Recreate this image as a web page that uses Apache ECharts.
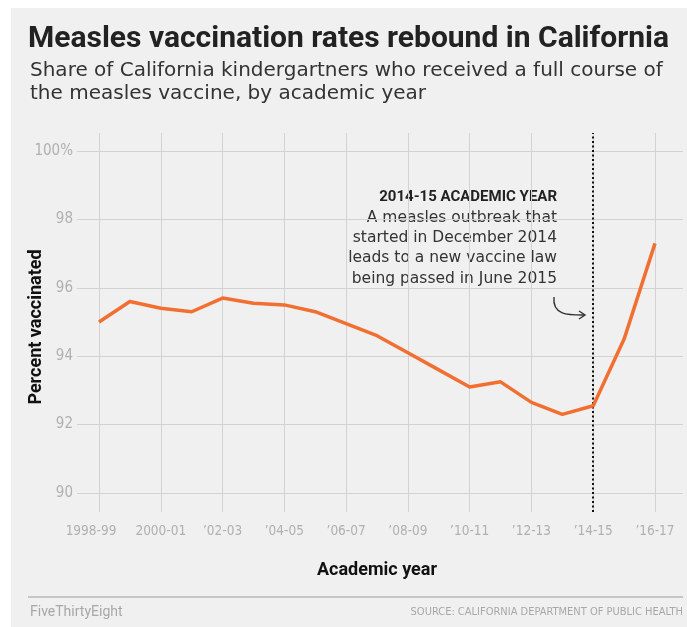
<!DOCTYPE html>
<html>
<head>
<meta charset="utf-8">
<script src="https://cdn.jsdelivr.net/npm/echarts@6/dist/echarts.min.js"></script>
<style>
html,body{margin:0;padding:0;background:#fff;}
#chart{width:687px;height:627px;}
</style>
</head>
<body>
<div id="chart"></div>
<script>
const categories = ['1998-99','1999-00','2000-01','2001-02','2002-03','2003-04','2004-05','2005-06','2006-07','2007-08','2008-09','2009-10','2010-11','2011-12','2012-13','2013-14','2014-15','2015-16','2016-17'];
const vaccinated = [95.0,95.6,95.4,95.3,95.7,95.55,95.5,95.3,94.95,94.6,94.1,93.6,93.1,93.25,92.65,92.3,92.55,94.5,97.3];
const xTickLabels = ['1998-99','2000-01','\u201902-03','\u201904-05','\u201906-07','\u201908-09','\u201910-11','\u201912-13','\u201914-15','\u201916-17'];
const yTicks = [90,92,94,96,98,100];
const markerYear = '2014-15';
const titleText = 'Measles vaccination rates rebound in California';
const subtitleText = 'Share of California kindergartners who received a full course of\nthe measles vaccine, by academic year';
const annotationHead = '2014-15 ACADEMIC YEAR';
const annotationLines = ['A measles outbreak that','started in December 2014','leads to a new vaccine law','being passed in June 2015'];
const sourceText = 'SOURCE: CALIFORNIA DEPARTMENT OF PUBLIC HEALTH';
const creditText = 'FiveThirtyEight';

const condensed = '"DejaVu Sans Condensed", "Liberation Sans Narrow", "DejaVu Sans", sans-serif';
const sans = 'Roboto, "Noto Sans", sans-serif';
const wide = '"DejaVu Sans", "Open Sans", sans-serif';

const chart = echarts.init(document.getElementById('chart'));

const plotTop = 151, plotBottom = 493, extTop = 133, extBottom = 512;
const unitPx = (plotBottom - plotTop) / (yTicks[yTicks.length-1] - yTicks[0]);
const extMax = yTicks[yTicks.length-1] + (plotTop - extTop) / unitPx;
const extMin = yTicks[0] - (extBottom - plotBottom) / unitPx;

const graphics = [
  {type:'rect', shape:{x:0,y:0,width:11,height:627}, style:{fill:'#ffffff'}, silent:true},
  {type:'rect', shape:{x:0,y:0,width:687,height:8}, style:{fill:'#ffffff'}, silent:true},
  {type:'line', shape:{x1:28,y1:597,x2:683,y2:597}, style:{stroke:'#c6c6c6', lineWidth:2}, silent:true},
  {type:'text', x:30, y:612, style:{text:creditText, fill:'#a8a8a8', font:'14px ' + sans, textAlign:'left', textVerticalAlign:'middle'}},
  {type:'text', x:683, y:612, style:{text:sourceText, fill:'#a8a8a8', font:'11px ' + condensed, textAlign:'right', textVerticalAlign:'middle'}},
  {type:'text', x:36, y:327, rotation:Math.PI/2, style:{text:'Percent vaccinated', fill:'#111', font:'bold 18px ' + sans, textAlign:'center', textVerticalAlign:'middle'}},
  {type:'text', x:377, y:570, style:{text:'Academic year', fill:'#111', font:'bold 18px ' + sans, textAlign:'center', textVerticalAlign:'middle'}},
  {type:'text', x:557, y:197, style:{text:annotationHead, fill:'#222', font:'bold 15px ' + sans, textAlign:'right', textVerticalAlign:'middle'}},
  {type:'bezierCurve', shape:{x1:554,y1:297,cpx1:552,cpy1:316,cpx2:570,cpy2:315,x2:585,y2:315}, style:{stroke:'#333', lineWidth:1.4, fill:null}, silent:true},
  {type:'polyline', shape:{points:[[579,311],[585,315],[579,319]]}, style:{stroke:'#333', lineWidth:1.4, fill:null}, silent:true}
];
annotationLines.forEach(function(t, i){
  graphics.push({type:'text', x:557, y:218 + i*20.2, style:{text:t, fill:'#333', font:'15.5px ' + wide, textAlign:'right', textVerticalAlign:'middle'}});
});

chart.setOption({
  backgroundColor:'#f0f0f0',
  animation:false,
  title:[
    {text:titleText, left:28, top:24, padding:0, textStyle:{fontFamily:sans, fontWeight:'bold', fontSize:30, color:'#222'}},
    {text:subtitleText, left:30, top:59, padding:0, textStyle:{fontFamily:wide, fontWeight:'normal', fontSize:20, lineHeight:23, color:'#333'}}
  ],
  graphic:graphics,
  grid:[
    {left:77, right:4, top:plotTop, bottom:627-plotBottom, containLabel:false},
    {left:99, right:32, top:extTop, bottom:627-extBottom, containLabel:false}
  ],
  xAxis:[
    {gridIndex:0, type:'value', show:false, min:0, max:1},
    {gridIndex:1, type:'category', data:categories, boundaryGap:false,
     axisLine:{show:false}, axisTick:{show:false},
     axisLabel:{interval:1, color:'#b0b0b0', fontFamily:condensed, fontSize:13.5, margin:12,
       formatter:function(v, i){ return i === 0 ? '{first|' + xTickLabels[0] + '}' : (i % 2 === 0 ? xTickLabels[i/2] : ''); },
       rich:{first:{color:'#b0b0b0', fontFamily:condensed, fontSize:13.5, padding:[0,16,0,0]}}},
     splitLine:{show:true, interval:1, lineStyle:{color:'#d2d2d2', width:1}}}
  ],
  yAxis:[
    {gridIndex:0, type:'value', min:yTicks[0], max:yTicks[yTicks.length-1], interval:2,
     axisLine:{show:false}, axisTick:{show:false},
     axisLabel:{color:'#b0b0b0', fontFamily:condensed, fontSize:15, margin:4,
       formatter:function(v){ return v === 100 ? '100%' : String(v); }},
     splitLine:{show:true, lineStyle:{color:'#d2d2d2', width:1}}},
    {gridIndex:1, type:'value', min:extMin, max:extMax, show:false, splitLine:{show:false}}
  ],
  series:[{
    type:'line', xAxisIndex:1, yAxisIndex:1, data:vaccinated, showSymbol:false, symbol:'none',
    lineStyle:{color:'#f26f32', width:3.5, join:'round'},
    z:5,
    markLine:{silent:true, symbol:'none', label:{show:false},
      lineStyle:{color:'#111', type:[2,2.5], width:2},
      data:[{xAxis:markerYear}]}
  }]
});
</script>
</body>
</html>
